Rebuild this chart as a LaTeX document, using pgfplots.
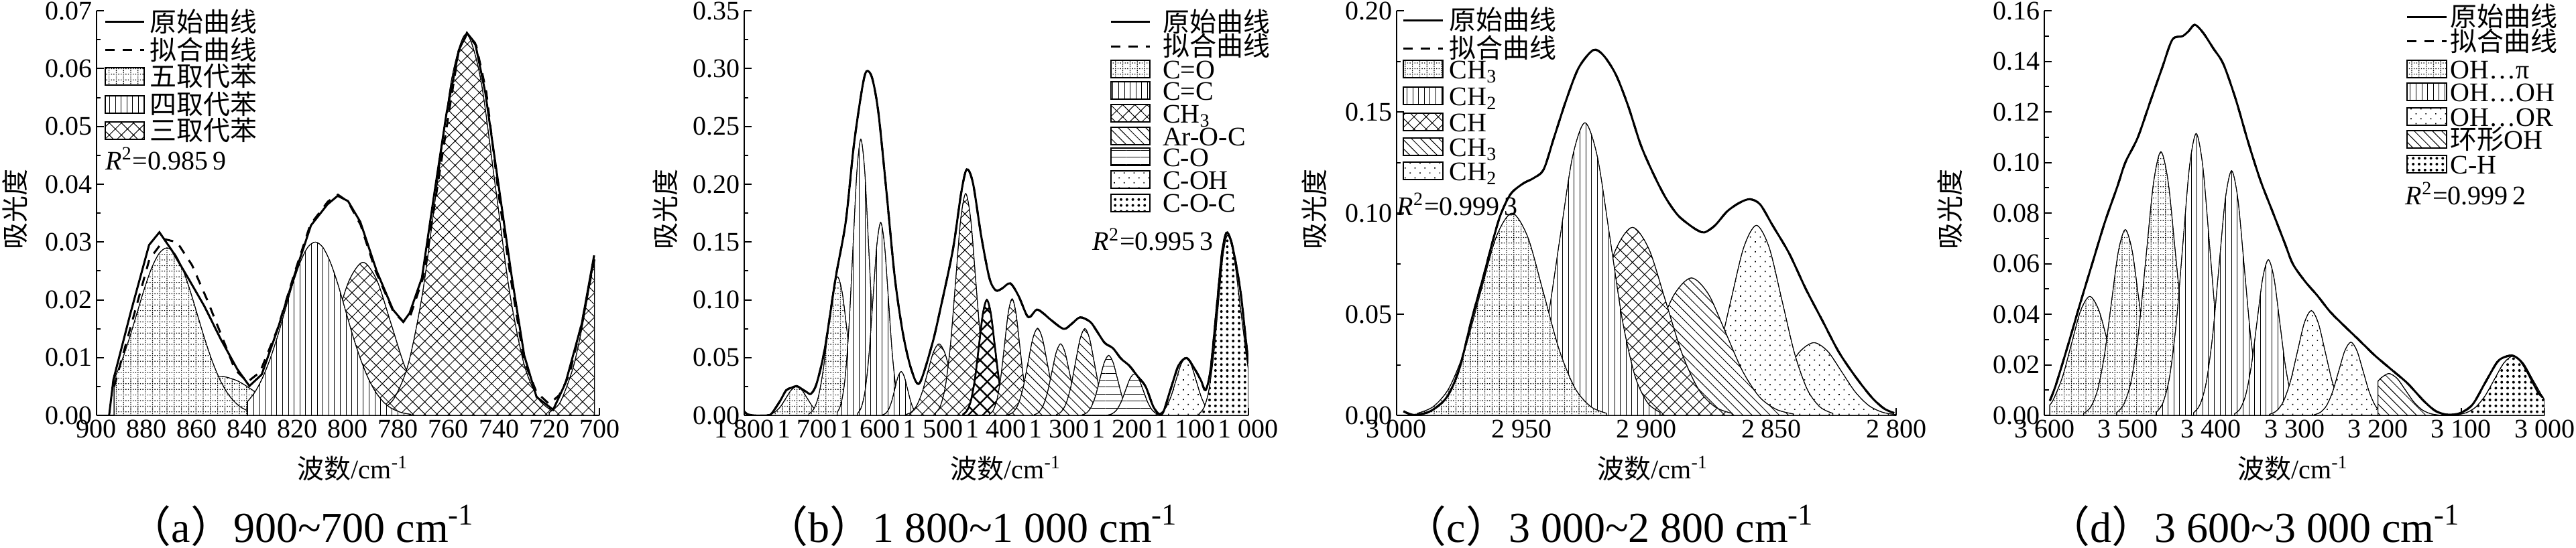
\documentclass[border=0pt]{standalone}
\usepackage{fontspec}
\setmainfont{Liberation Serif}
\newfontfamily\cjk{Noto Sans CJK SC}
\usepackage{pgfplots}
\pgfplotsset{compat=1.18}
\usetikzlibrary{patterns,patterns.meta}

\pgfdeclarepatternformonly{dotgrid}{\pgfpoint{-0.1pt}{-0.1pt}}{\pgfpoint{2.8pt}{2.2pt}}{\pgfpoint{2.7pt}{2.1pt}}{%
  \pgfpathrectangle{\pgfpoint{0pt}{0pt}}{\pgfpoint{0.35pt}{0.3pt}}%
  \pgfpathrectangle{\pgfpoint{0.9pt}{0pt}}{\pgfpoint{0.35pt}{0.3pt}}%
  \pgfpathrectangle{\pgfpoint{1.8pt}{0pt}}{\pgfpoint{0.35pt}{0.3pt}}%
  \pgfpathrectangle{\pgfpoint{0pt}{0.7pt}}{\pgfpoint{0.3pt}{0.35pt}}%
  \pgfpathrectangle{\pgfpoint{0pt}{1.4pt}}{\pgfpoint{0.3pt}{0.35pt}}%
  \pgfusepath{fill}}

\tikzset{
  comp/.style={draw=black, line width=0.25pt, fill=white},
  pgrid/.style={comp, postaction={pattern color=black, pattern=dotgrid}},
  pvert/.style={comp, postaction={pattern color=black, pattern={Lines[angle=90,distance=2.15pt,line width=0.25pt]}}},
  pcross/.style={comp, postaction={pattern color=black, pattern={Hatch[angle=45,distance=3.2pt,line width=0.25pt]}}},
  pcrossb/.style={draw=black, line width=0.6pt, fill=white, postaction={pattern color=black, pattern={Hatch[angle=45,distance=3.8pt,line width=0.6pt]}}},
  pnw/.style={comp, postaction={pattern color=black, pattern={Lines[angle=-45,distance=2.4pt,line width=0.25pt]}}},
  phor/.style={comp, postaction={pattern color=black, pattern={Lines[angle=0,distance=2.6pt,line width=0.25pt]}}},
  pdots/.style={comp, postaction={pattern color=black, pattern={Dots[distance=2.6pt,radius=0.3pt,angle=45]}}},
  pdia/.style={comp, postaction={pattern color=black, pattern={Dots[distance=2.2pt,radius=0.5pt]}}},
  solidc/.style={black, line width=0.75pt},
  dashc/.style={black, line width=0.75pt, dash pattern=on 3.5pt off 3pt},
  rsq/.style={anchor=west, inner sep=0pt, font=\fontsize{10}{12}\selectfont},
  capt/.style={anchor=base, inner sep=0pt, font=\fontsize{16}{18}\selectfont},
}

% legend helpers (key entries, drawn in axis description coordinates)
\newcommand{\legline}[3]{\draw[#1] (axis description cs:#2,#3) -- ++(14.6pt,0pt);}
\newcommand{\legbox}[3]{\draw[#1, line width=0.5pt] ([yshift=-3.25pt]axis description cs:#2,#3) rectangle ++(14.6pt,6.5pt);}
\newcommand{\legtext}[3]{\node[anchor=base west, inner sep=0pt, font=\fontsize{10}{12}\selectfont] at ([yshift=-3.6pt]axis description cs:#1,#2) {#3};}

\pgfplotsset{
  panel/.style={
    scale only axis, anchor=south west, x dir=reverse,
    axis x line*=bottom, axis y line*=left,
    axis line style={-, line width=0.5pt},
    tick style={black, line width=0.5pt},
    tick align=inside,
    major tick length=2.8pt, minor tick length=1.6pt,
    tick label style={font=\fontsize{10}{12}\selectfont},
    yticklabel style={inner xsep=1.5pt, inner ysep=0pt},
    xticklabel style={inner sep=1.5pt},
    label style={font=\fontsize{10}{12}\selectfont},
    xlabel={{\cjk 波数}/cm\textsuperscript{-1}},
    ylabel={\cjk 吸光度},
    ymin=0, enlargelimits=false, clip mode=individual,
    minor x tick num=1, minor y tick num=1,
  },
}

\begin{document}
\begin{tikzpicture}
\useasboundingbox (0,0) rectangle (960.5pt,204.25pt);

%================ (a) =================
\begin{axis}[panel, at={(36pt,49.2pt)}, width=187.5pt, height=151pt,
  xmin=700, xmax=900, ymax=0.07,
  xtick={700,720,740,760,780,800,820,840,860,880,900},
  xticklabels={700,720,740,760,780,800,820,840,860,880,900},
  ytick={0,0.01,0.02,0.03,0.04,0.05,0.06,0.07},
  yticklabels={0.00,0.01,0.02,0.03,0.04,0.05,0.06,0.07},
  xlabel style={at={(axis description cs:0.51,-0.131)}, anchor=center},
  ylabel style={at={(axis description cs:-0.163,0.51)}, anchor=center}]

\addplot[pcross, smooth] coordinates {(827,0.00029)(821.5,0.00116)(816,0.00359)(810.5,0.0086)(805,0.01607)(799.5,0.02339)(794,0.0265)(788.5,0.02339)(783,0.01607)(777.5,0.0086)(772,0.00359)(766.5,0.00116)(761,0.00029)} \closedcycle;
\addplot[pcross, smooth] coordinates {(787.5,0.00073)(781.75,0.0029)(776,0.00893)(770.25,0.02143)(764.5,0.04003)(758.75,0.05825)(753,0.066)(747.25,0.05825)(741.5,0.04003)(735.75,0.02143)(730,0.00893)(724.25,0.0029)(718.5,0.00073)} \closedcycle;
\addplot[pgrid, smooth] coordinates {(893,0.000075)(886,0.0003)(879,0.00092)(872,0.00221)(865,0.00412)(858,0.006)(851,0.0068)(844,0.006)(837,0.00412)(830,0.00221)(823,0.00092)(816,0.0003)(809,0.000075)} \closedcycle;
\addplot[pgrid, smooth] coordinates {(893,0.00627)(890,0.00942)(887,0.01328)(884,0.01759)(881,0.0219)(878,0.0256)(875,0.0281)(872,0.029)(869,0.0281)(866,0.0256)(863,0.0219)(860,0.01759)(857,0.01328)(854,0.00942)(851,0.00627)(848,0.00392)(845,0.00231)(842,0.00127)(838,0.00053)(834,0.00019)(828,0.00003)} \closedcycle;
\addplot[pvert, smooth] coordinates {(840,0.00239)(837,0.00406)(834,0.0065)(831,0.00975)(828,0.0137)(825,0.0182)(822,0.0227)(819,0.0265)(816,0.0291)(813,0.030)(810,0.0291)(807,0.0265)(804,0.0227)(801,0.0182)(798,0.0137)(795,0.00975)(792,0.0065)(789,0.00406)(786,0.00239)(783,0.00132)(779,0.00054)(775,0.0002)} \closedcycle;
\addplot[pcross, smooth] coordinates {(720,0.0005)(716,0.002)(713,0.005)(710,0.009)(707,0.015)(704.5,0.021)(702,0.027)} \closedcycle;

\addplot[solidc] coordinates {(895,0)(893.3,0.0062)(886.5,0.0177)(879.1,0.0295)(875.0,0.0317)(870.1,0.0286)(863.6,0.0238)(857.1,0.0189)(850.6,0.0132)(844.0,0.0080)(839.2,0.0051)(834.3,0.0071)(827.7,0.0153)(821.2,0.0244)(814.7,0.0329)(808.2,0.0365)(804.1,0.0380)(800.0,0.0371)(795.1,0.0335)(788.6,0.0250)(782.1,0.0183)(778.0,0.0162)(775.5,0.0177)(770.6,0.0238)(765.7,0.0383)(760.8,0.0523)(755.9,0.0632)(752.7,0.0662)(749.4,0.0644)(745.4,0.0559)(739.6,0.0383)(734.8,0.0238)(729.9,0.0104)(725.0,0.0032)(718.4,0.0010)(713.5,0.0056)(707.0,0.0159)(702.1,0.0277)};
\addplot[dashc] coordinates {(893,0.005)(886,0.016)(879,0.027)(873,0.0305)(868,0.030)(862,0.026)(856,0.020)(850,0.0135)(845,0.008)(840,0.0058)(835,0.0075)(828,0.015)(821,0.025)(815,0.033)(808,0.037)(804,0.0382)(800,0.037)(795,0.033)(789,0.025)(782,0.018)(778,0.0162)(775,0.0175)(770,0.024)(765,0.038)(760,0.052)(756,0.063)(752.7,0.066)(749,0.064)(745,0.056)(740,0.038)(735,0.023)(730,0.0095)(725,0.004)(720,0.002)(716,0.0035)(712,0.007)(707,0.016)(702,0.027)};

\legline{solidc}{0.0171}{0.9724} \legtext{0.1044}{0.9724}{\cjk 原始曲线}
\legline{dashc}{0.0171}{0.9031} \legtext{0.1044}{0.9031}{\cjk 拟合曲线}
\legbox{pgrid}{0.0171}{0.8381} \legtext{0.1044}{0.8381}{\cjk 五取代苯}
\legbox{pvert}{0.0171}{0.7687} \legtext{0.1044}{0.7687}{\cjk 四取代苯}
\legbox{pcross}{0.0171}{0.7038} \legtext{0.1044}{0.7038}{\cjk 三取代苯}
\node[rsq] at (axis description cs:0.017,0.634) {\textit{R}\textsuperscript{2}=0.985\,9};
\end{axis}

%================ (b) =================
\begin{axis}[panel, at={(277.5pt,49.2pt)}, width=188pt, height=151pt,
  xmin=1000, xmax=1800, ymax=0.35,
  xtick={1000,1100,1200,1300,1400,1500,1600,1700,1800},
  xticklabels={1 000,1 100,1 200,1 300,1 400,1 500,1 600,1 700,1 800},
  ytick={0,0.05,0.10,0.15,0.20,0.25,0.30,0.35},
  yticklabels={0.00,0.05,0.10,0.15,0.20,0.25,0.30,0.35},
  xlabel style={at={(axis description cs:0.519,-0.131)}, anchor=center},
  ylabel style={at={(axis description cs:-0.157,0.51)}, anchor=center}]

\addplot[pgrid, smooth] coordinates {(1767,0.0003)(1758.5,0.0011)(1750.2,0.0034)(1741.9,0.0081)(1733.6,0.0152)(1725.3,0.0221)(1717,0.025)(1708.7,0.0221)(1700.4,0.0152)(1692.1,0.0081)(1683.8,0.0034)(1675.5,0.0011)(1667.2,0.0003)} \closedcycle;
\addplot[pgrid, smooth] coordinates {(1697.6,0.00133)(1690,0.00527)(1682.4,0.0162)(1674.8,0.039)(1667.2,0.0728)(1659.6,0.1059)(1652,0.120)(1644.4,0.1059)(1636.8,0.0728)(1629.2,0.039)(1621.6,0.0162)(1614,0.00527)(1606.4,0.00133)} \closedcycle;
\addplot[pvert, smooth] coordinates {(1652.5,0.00265)(1646.25,0.0105)(1640,0.0323)(1633.75,0.0776)(1627.5,0.145)(1621.25,0.2109)(1615,0.239)(1608.75,0.2109)(1602.5,0.145)(1596.25,0.0776)(1590,0.0323)(1583.75,0.0105)(1577.5,0.00265)} \closedcycle;
\addplot[pvert, smooth] coordinates {(1620.1,0.00185)(1614,0.00733)(1607.9,0.0226)(1601.8,0.0542)(1595.7,0.1013)(1589.6,0.1474)(1583.5,0.167)(1577.4,0.1474)(1571.3,0.1013)(1565.2,0.0542)(1559.1,0.0226)(1553,0.00733)(1546.9,0.00185)} \closedcycle;
\addplot[pvert, smooth] coordinates {(1581,0.00042)(1576,0.00167)(1571,0.00514)(1566,0.01234)(1561,0.02305)(1556,0.03354)(1551,0.038)(1546,0.03354)(1541,0.02305)(1536,0.01234)(1531,0.00514)(1526,0.00167)(1521,0.00042)} \closedcycle;
\addplot[pcross, smooth] coordinates {(1544.4,0.00069)(1535.5,0.00272)(1526.6,0.00839)(1517.7,0.0201)(1508.8,0.0376)(1499.9,0.0547)(1491,0.062)(1482.1,0.0547)(1473.2,0.0376)(1464.3,0.0201)(1455.4,0.00839)(1446.5,0.00272)(1437.6,0.00069)} \closedcycle;
\addplot[pcross, smooth] coordinates {(1496.6,0.00213)(1488.6,0.00843)(1480.6,0.026)(1472.6,0.0623)(1464.6,0.1164)(1456.6,0.1694)(1448.6,0.192)(1440.6,0.1694)(1432.6,0.1164)(1424.6,0.0623)(1416.6,0.026)(1408.6,0.00843)(1400.6,0.00213)} \closedcycle;
\addplot[pcrossb, smooth] coordinates {(1452.5,0.00111)(1446.25,0.00439)(1440,0.01353)(1433.75,0.03247)(1427.5,0.06065)(1421.25,0.08825)(1415,0.100)(1408.75,0.08825)(1402.5,0.06065)(1396.25,0.03247)(1390,0.01353)(1383.75,0.00439)(1377.5,0.00111)} \closedcycle;
\addplot[pcross, smooth] coordinates {(1411,0.00112)(1405,0.00443)(1399,0.01367)(1393,0.0328)(1387,0.0613)(1381,0.0891)(1375,0.101)(1369,0.0891)(1363,0.0613)(1357,0.0328)(1351,0.01367)(1345,0.00443)(1339,0.00112)} \closedcycle;
\addplot[pnw, smooth] coordinates {(1380.1,0.00084)(1372.5,0.00331)(1364.9,0.01022)(1357.3,0.0245)(1349.7,0.0458)(1342.1,0.0666)(1334.5,0.0755)(1326.9,0.0666)(1319.3,0.0458)(1311.7,0.0245)(1304.1,0.01022)(1296.5,0.00331)(1288.9,0.00084)} \closedcycle;
\addplot[pnw, smooth] coordinates {(1339.7,0.00069)(1332.75,0.00272)(1325.8,0.00839)(1318.85,0.0201)(1311.9,0.0376)(1304.95,0.0547)(1298,0.062)(1291.05,0.0547)(1284.1,0.0376)(1277.15,0.0201)(1270.2,0.00839)(1263.25,0.00272)(1256.3,0.00069)} \closedcycle;
\addplot[pnw, smooth] coordinates {(1304.5,0.00083)(1297,0.0033)(1289.5,0.01017)(1282,0.0244)(1274.5,0.0456)(1267,0.0664)(1259.5,0.0752)(1252,0.0664)(1244.5,0.0456)(1237,0.0244)(1229.5,0.01017)(1222,0.0033)(1214.5,0.00083)} \closedcycle;
\addplot[phor, smooth] coordinates {(1263.7,0.00058)(1256.7,0.00228)(1249.7,0.00704)(1242.7,0.01688)(1235.7,0.03154)(1228.7,0.04589)(1221.7,0.052)(1214.7,0.04589)(1207.7,0.03154)(1200.7,0.01688)(1193.7,0.00704)(1186.7,0.00228)(1179.7,0.00058)} \closedcycle;
\addplot[phor, smooth] coordinates {(1223,0.0004)(1216,0.00158)(1209,0.00487)(1202,0.01169)(1195,0.02183)(1188,0.03177)(1181,0.036)(1174,0.03177)(1167,0.02183)(1160,0.01169)(1153,0.00487)(1146,0.00158)(1139,0.0004)} \closedcycle;
\addplot[pdots, smooth] coordinates {(1147,0.00056)(1139,0.0022)(1131,0.00677)(1123,0.01624)(1115,0.03033)(1107,0.04413)(1099,0.050)(1091,0.04413)(1083,0.03033)(1075,0.01624)(1067,0.00677)(1059,0.0022)(1051,0.00056)} \closedcycle;
\addplot[pdia, smooth] coordinates {(1078,0.0017)(1070.5,0.0068)(1063,0.0211)(1055.5,0.0507)(1048,0.0946)(1040.5,0.1377)(1033,0.156)(1023,0.1377)(1013,0.0946)(1003,0.0507)(1000,0.040)} \closedcycle;

\addplot[solidc, smooth] coordinates {(1800,0.0036)(1795,0.001)(1782,0)(1763,0)(1756,0.0021)(1743,0.0127)(1733.5,0.0218)(1725,0.024)(1717,0.0255)(1709,0.023)(1701,0.0203)(1694,0.0188)(1685,0.0279)(1672,0.0582)(1655,0.1189)(1639,0.1674)(1626,0.2341)(1613,0.2827)(1606,0.2978)(1597,0.2918)(1587,0.2614)(1574,0.1917)(1561,0.1189)(1548,0.0704)(1535,0.0400)(1522,0.0279)(1502,0.0613)(1489,0.0916)(1469,0.1432)(1456,0.1917)(1447,0.2129)(1437,0.2008)(1424,0.1553)(1411,0.1189)(1401,0.1083)(1391,0.1098)(1378,0.1143)(1365,0.1037)(1352,0.0870)(1346,0.0855)(1336,0.0916)(1326,0.0886)(1313,0.0825)(1293,0.0749)(1280,0.0795)(1267,0.0849)(1251,0.0810)(1241,0.0734)(1228,0.0628)(1215,0.0582)(1202,0.0491)(1189,0.0431)(1176,0.0340)(1163,0.0249)(1150,0.0067)(1137,0.0012)(1124,0.0218)(1111,0.0431)(1098,0.0497)(1085,0.0400)(1075,0.030)(1068,0.022)(1060,0.040)(1050,0.095)(1042,0.140)(1035,0.158)(1028,0.152)(1020,0.132)(1012,0.105)(1005,0.070)(1000,0.045)};
\addplot[dashc, smooth] coordinates {(1800,0.0036)(1795,0.001)(1782,0)(1763,0)(1756,0.0021)(1743,0.0127)(1733.5,0.0218)(1725,0.024)(1717,0.0255)(1709,0.023)(1701,0.0203)(1694,0.0188)(1685,0.0279)(1672,0.0582)(1655,0.1189)(1639,0.1674)(1626,0.2341)(1613,0.2827)(1606,0.2978)(1597,0.2918)(1587,0.2614)(1574,0.1917)(1561,0.1189)(1548,0.0704)(1535,0.0400)(1522,0.0279)(1502,0.0613)(1489,0.0916)(1469,0.1432)(1456,0.1917)(1447,0.2129)(1437,0.2008)(1424,0.1553)(1411,0.1189)(1401,0.1083)(1391,0.1098)(1378,0.1143)(1365,0.1037)(1352,0.0870)(1346,0.0855)(1336,0.0916)(1326,0.0886)(1313,0.0825)(1293,0.0749)(1280,0.0795)(1267,0.0849)(1251,0.0810)(1241,0.0734)(1228,0.0628)(1215,0.0582)(1202,0.0491)(1189,0.0431)(1176,0.0340)(1163,0.0249)(1150,0.0067)(1137,0.0012)(1124,0.0218)(1111,0.0431)(1098,0.0497)(1085,0.0400)(1075,0.030)(1068,0.022)(1060,0.040)(1050,0.095)(1042,0.140)(1035,0.158)(1028,0.152)(1020,0.132)(1012,0.105)(1005,0.070)(1000,0.045)};

\legline{solidc}{0.727}{0.9724} \legtext{0.8289}{0.9724}{\cjk 原始曲线}
\legline{dashc}{0.727}{0.9121} \legtext{0.8289}{0.9121}{\cjk 拟合曲线}
\legbox{pgrid}{0.727}{0.8558} \legtext{0.8289}{0.8558}{C=O}
\legbox{pvert}{0.727}{0.8035} \legtext{0.8289}{0.8035}{C=C}
\legbox{pcross}{0.727}{0.7470} \legtext{0.8289}{0.7470}{CH\textsubscript{3}}
\legbox{pnw}{0.727}{0.6907} \legtext{0.8289}{0.6907}{Ar-O-C}
\legbox{phor}{0.727}{0.6387} \legtext{0.8289}{0.6387}{C-O}
\legbox{pdots}{0.727}{0.5825} \legtext{0.8289}{0.5825}{C-OH}
\legbox{pdia}{0.727}{0.5260} \legtext{0.8289}{0.5260}{C-O-C}
\node[rsq] at (axis description cs:0.69,0.435) {\textit{R}\textsuperscript{2}=0.995\,3};
\end{axis}

%================ (c) =================
\begin{axis}[panel, at={(520.7pt,49.2pt)}, width=186.4pt, height=151pt,
  xmin=2800, xmax=3000, ymax=0.20,
  xtick={2800,2850,2900,2950,3000},
  xticklabels={2 800,2 850,2 900,2 950,3 000},
  ytick={0,0.05,0.10,0.15,0.20},
  yticklabels={0.00,0.05,0.10,0.15,0.20},
  xlabel style={at={(axis description cs:0.513,-0.131)}, anchor=center},
  ylabel style={at={(axis description cs:-0.164,0.51)}, anchor=center}]

\addplot[pdots, smooth] coordinates {(2866,0.0004)(2860.5,0.00158)(2855,0.00487)(2849.5,0.01169)(2844,0.02183)(2838.5,0.03177)(2833,0.036)(2827.5,0.03177)(2822,0.02183)(2816.5,0.01169)(2811,0.00487)(2805.5,0.00158)(2800,0.0004)} \closedcycle;
\addplot[pdots, smooth] coordinates {(2886.6,0.00104)(2881.5,0.00413)(2876.4,0.01272)(2871.3,0.0305)(2866.2,0.057)(2861.1,0.083)(2856,0.094)(2850.9,0.083)(2845.8,0.057)(2840.7,0.0305)(2835.6,0.01272)(2830.5,0.00413)(2825.4,0.00104)} \closedcycle;
\addplot[pnw, smooth] coordinates {(2922.8,0.00075)(2916,0.00299)(2909.2,0.0092)(2902.4,0.0221)(2895.6,0.0412)(2888.8,0.060)(2882,0.068)(2875.2,0.060)(2868.4,0.0412)(2861.6,0.0221)(2854.8,0.0092)(2848,0.00299)(2841.2,0.00075)} \closedcycle;
\addplot[pcross, smooth] coordinates {(2945.5,0.00103)(2938.85,0.00408)(2932.2,0.01258)(2925.55,0.0302)(2918.9,0.0564)(2912.25,0.0821)(2905.6,0.093)(2898.95,0.0821)(2892.3,0.0564)(2885.65,0.0302)(2879,0.01258)(2872.35,0.00408)(2865.7,0.00103)} \closedcycle;
\addplot[pvert, smooth] coordinates {(2954.6,0.0016)(2949.6,0.00635)(2944.6,0.01958)(2939.6,0.04698)(2934.6,0.08776)(2929.6,0.1277)(2924.6,0.1447)(2919.6,0.1277)(2914.6,0.08776)(2909.6,0.04698)(2904.6,0.01958)(2899.6,0.00635)(2894.6,0.0016)} \closedcycle;
\addplot[pgrid, smooth] coordinates {(2991.6,0.00111)(2985.3,0.00439)(2979,0.01353)(2972.7,0.03247)(2966.4,0.06065)(2960.1,0.08825)(2953.8,0.100)(2947.5,0.08825)(2941.2,0.06065)(2934.9,0.03247)(2928.6,0.01353)(2922.3,0.00439)(2916,0.00111)} \closedcycle;

\addplot[solidc, smooth] coordinates {(2997.2,0.0021)(2993.1,0.0003)(2986.5,0.0021)(2979.9,0.009)(2974.9,0.0229)(2970,0.0471)(2965,0.0697)(2961.7,0.0853)(2958.4,0.0991)(2954.3,0.1095)(2949.3,0.1147)(2945.2,0.1173)(2941.1,0.1217)(2937,0.1373)(2932,0.1563)(2927.1,0.1719)(2921.3,0.1806)(2917.2,0.178)(2912.2,0.1684)(2907.3,0.1529)(2902.3,0.1338)(2897.4,0.1199)(2892.4,0.1078)(2887.5,0.0991)(2882.5,0.0939)(2879.2,0.0913)(2876.7,0.0905)(2872.6,0.0939)(2867.7,0.1009)(2862.7,0.1052)(2858.6,0.1069)(2854.5,0.1043)(2849.5,0.0939)(2842.9,0.0801)(2836.3,0.0627)(2829.7,0.0471)(2823.1,0.0315)(2816.5,0.0194)(2809.9,0.009)(2805,0.0035)(2800.9,0.0012)};
\addplot[dashc, smooth] coordinates {(2997.2,0.0021)(2993.1,0.0003)(2986.5,0.0021)(2979.9,0.009)(2974.9,0.0229)(2970,0.0471)(2965,0.0697)(2961.7,0.0853)(2958.4,0.0991)(2954.3,0.1095)(2949.3,0.1147)(2945.2,0.1173)(2941.1,0.1217)(2937,0.1373)(2932,0.1563)(2927.1,0.1719)(2921.3,0.1806)(2917.2,0.178)(2912.2,0.1684)(2907.3,0.1529)(2902.3,0.1338)(2897.4,0.1199)(2892.4,0.1078)(2887.5,0.0991)(2882.5,0.0939)(2879.2,0.0913)(2876.7,0.0905)(2872.6,0.0939)(2867.7,0.1009)(2862.7,0.1052)(2858.6,0.1069)(2854.5,0.1043)(2849.5,0.0939)(2842.9,0.0801)(2836.3,0.0627)(2829.7,0.0471)(2823.1,0.0315)(2816.5,0.0194)(2809.9,0.009)(2805,0.0035)(2800.9,0.0012)};

\legline{solidc}{0.0138}{0.9768} \legtext{0.1047}{0.9768}{\cjk 原始曲线}
\legline{dashc}{0.0138}{0.9075} \legtext{0.1047}{0.9075}{\cjk 拟合曲线}
\legbox{pgrid}{0.0138}{0.8555} \legtext{0.1047}{0.8555}{CH\textsubscript{3}}
\legbox{pvert}{0.0138}{0.7904} \legtext{0.1047}{0.7904}{CH\textsubscript{2}}
\legbox{pcross}{0.0138}{0.7255} \legtext{0.1047}{0.7255}{CH}
\legbox{pnw}{0.0138}{0.6647} \legtext{0.1047}{0.6647}{CH\textsubscript{3}}
\legbox{pdots}{0.0138}{0.6041} \legtext{0.1047}{0.6041}{CH\textsubscript{2}}
\node[rsq] at (axis description cs:0.0,0.522) {\textit{R}\textsuperscript{2}=0.999\,3};
\end{axis}

%================ (d) =================
\begin{axis}[panel, at={(762.3pt,49.2pt)}, width=186.5pt, height=151pt,
  xmin=3000, xmax=3600, ymax=0.16,
  xtick={3000,3100,3200,3300,3400,3500,3600},
  xticklabels={3 000,3 100,3 200,3 300,3 400,3 500,3 600},
  ytick={0,0.02,0.04,0.06,0.08,0.10,0.12,0.14,0.16},
  yticklabels={0.00,0.02,0.04,0.06,0.08,0.10,0.12,0.14,0.16},
  xlabel style={at={(axis description cs:0.497,-0.131)}, anchor=center},
  ylabel style={at={(axis description cs:-0.189,0.51)}, anchor=center}]

\addplot[pgrid, smooth] coordinates {(3593.6,0.0042)(3589.2,0.00637)(3578.3,0.0153)(3567.4,0.02857)(3556.5,0.04157)(3545.6,0.0471)(3534.7,0.04157)(3523.8,0.02857)(3513,0.0153)(3502,0.00637)(3491.1,0.00207)(3480.2,0.00052)} \closedcycle;
\addplot[pgrid, smooth] coordinates {(3553.1,0.00082)(3544.75,0.00323)(3536.4,0.00994)(3528.05,0.02387)(3519.7,0.04458)(3511.35,0.06486)(3503,0.0735)(3494.65,0.06486)(3486.3,0.04458)(3477.95,0.02387)(3469.6,0.00994)(3461.25,0.00323)(3452.9,0.00082)} \closedcycle;
\addplot[pgrid, smooth] coordinates {(3513.4,0.00116)(3504.55,0.00458)(3495.7,0.01411)(3486.85,0.03387)(3478,0.06326)(3469.15,0.09205)(3460.3,0.1043)(3451.45,0.09205)(3442.6,0.06326)(3433.75,0.03387)(3424.9,0.01411)(3416.05,0.00458)(3407.2,0.00116)} \closedcycle;
\addplot[pvert, smooth] coordinates {(3466,0.00124)(3458,0.00489)(3450,0.01509)(3442,0.0362)(3434,0.06762)(3426,0.0984)(3418,0.1115)(3410,0.0984)(3402,0.06762)(3394,0.0362)(3386,0.01509)(3378,0.00489)(3370,0.00124)} \closedcycle;
\addplot[pvert, smooth] coordinates {(3421.1,0.00107)(3413.5,0.00425)(3405.9,0.0131)(3398.3,0.03143)(3390.7,0.05871)(3383.1,0.08543)(3375.5,0.0968)(3367.9,0.08543)(3360.3,0.05871)(3352.7,0.03143)(3345.1,0.0131)(3337.5,0.00425)(3329.9,0.00107)} \closedcycle;
\addplot[pvert, smooth] coordinates {(3371.9,0.00068)(3365.15,0.0027)(3358.4,0.00833)(3351.65,0.02)(3344.9,0.03736)(3338.15,0.05436)(3331.4,0.0616)(3324.65,0.05436)(3317.9,0.03736)(3311.15,0.02)(3304.4,0.00833)(3297.65,0.0027)(3290.9,0.00068)} \closedcycle;
\addplot[pdots, smooth] coordinates {(3330,0.00046)(3321.65,0.00182)(3313.3,0.00561)(3304.95,0.01348)(3296.6,0.02517)(3288.25,0.03662)(3279.9,0.0415)(3271.55,0.03662)(3263.2,0.02517)(3254.85,0.01348)(3246.5,0.00561)(3238.15,0.00182)(3229.8,0.00046)} \closedcycle;
\addplot[pdots, smooth] coordinates {(3276.2,0.00032)(3268.9,0.00127)(3261.6,0.00392)(3254.3,0.00942)(3247,0.01759)(3239.7,0.02559)(3232.4,0.029)(3225.1,0.02559)(3217.8,0.01759)(3210.5,0.00942)(3203.2,0.00392)(3195.9,0.00127)(3188.6,0.00032)} \closedcycle;
\addplot[pnw, smooth] coordinates {(3200,0.01345)(3197,0.01465)(3187,0.0166)(3177,0.01465)(3167,0.01007)(3157,0.00539)(3147,0.00225)(3137,0.00073)(3127,0.00018)} \closedcycle;
\addplot[pdia, smooth] coordinates {(3106,0.00026)(3094.55,0.00104)(3083.1,0.00319)(3071.65,0.00766)(3060.2,0.01431)(3048.75,0.02083)(3037.3,0.0236)(3025.85,0.02083)(3014.4,0.01431)(3002.95,0.00766)(3000,0.00626)} \closedcycle;

\addplot[solidc, smooth] coordinates {(3593.6,0.0058)(3586.3,0.0121)(3571.6,0.028)(3556.9,0.0446)(3542.2,0.0606)(3527.5,0.0765)(3512.7,0.0904)(3502.9,0.1001)(3488.2,0.1098)(3473.5,0.1237)(3458.8,0.1375)(3446.6,0.1486)(3434.3,0.150)(3427,0.152)(3419.6,0.1545)(3409.8,0.1514)(3397.5,0.1452)(3385.3,0.1389)(3370.6,0.1251)(3355.9,0.1084)(3341.2,0.0932)(3326.5,0.0807)(3311.8,0.0682)(3302,0.0599)(3287.3,0.053)(3272.6,0.0474)(3257.8,0.0412)(3243.1,0.0363)(3223.5,0.0301)(3203.9,0.0238)(3184.3,0.0183)(3164.7,0.0128)(3145.1,0.0058)(3130.4,0.0017)(3115.7,0.0003)(3101,0.001)(3086.3,0.0044)(3071.6,0.0128)(3056.9,0.0211)(3047.3,0.0232)(3037.5,0.0236)(3027.7,0.0211)(3017.9,0.0155)(3008.1,0.0093)(3002.2,0.0072)};
\addplot[dashc, smooth] coordinates {(3593.6,0.0058)(3586.3,0.0121)(3571.6,0.028)(3556.9,0.0446)(3542.2,0.0606)(3527.5,0.0765)(3512.7,0.0904)(3502.9,0.1001)(3488.2,0.1098)(3473.5,0.1237)(3458.8,0.1375)(3446.6,0.1486)(3434.3,0.150)(3427,0.152)(3419.6,0.1545)(3409.8,0.1514)(3397.5,0.1452)(3385.3,0.1389)(3370.6,0.1251)(3355.9,0.1084)(3341.2,0.0932)(3326.5,0.0807)(3311.8,0.0682)(3302,0.0599)(3287.3,0.053)(3272.6,0.0474)(3257.8,0.0412)(3243.1,0.0363)(3223.5,0.0301)(3203.9,0.0238)(3184.3,0.0183)(3164.7,0.0128)(3145.1,0.0058)(3130.4,0.0017)(3115.7,0.0003)(3101,0.001)(3086.3,0.0044)(3071.6,0.0128)(3056.9,0.0211)(3047.3,0.0232)(3037.5,0.0236)(3027.7,0.0211)(3017.9,0.0155)(3008.1,0.0093)(3002.2,0.0072)};

\legline{solidc}{0.7252}{0.9854} \legtext{0.8109}{0.9854}{\cjk 原始曲线}
\legline{dashc}{0.7252}{0.9248} \legtext{0.8109}{0.9248}{\cjk 拟合曲线}
\legbox{pgrid}{0.7252}{0.8555} \legtext{0.8109}{0.8555}{OH…π}
\legbox{pvert}{0.7252}{0.7992} \legtext{0.8109}{0.7992}{OH…OH}
\legbox{pdots}{0.7252}{0.7384} \legtext{0.8109}{0.7384}{OH…OR}
\legbox{pnw}{0.7252}{0.6821} \legtext{0.8109}{0.6821}{{\cjk 环形}OH}
\legbox{pdia}{0.7252}{0.6214} \legtext{0.8109}{0.6214}{C-H}
\node[rsq] at (axis description cs:0.721,0.548) {\textit{R}\textsuperscript{2}=0.999\,2};
\end{axis}

%================ captions =================
\node[capt] at (112.5pt,2pt) {{\cjk （}a{\cjk ）}900\textasciitilde700 cm\textsuperscript{-1}};
\node[capt] at (362.3pt,2pt) {{\cjk （}b{\cjk ）}1 800\textasciitilde1 000 cm\textsuperscript{-1}};
\node[capt] at (600pt,2pt) {{\cjk （}c{\cjk ）}3 000\textasciitilde2 800 cm\textsuperscript{-1}};
\node[capt] at (840.5pt,2pt) {{\cjk （}d{\cjk ）}3 600\textasciitilde3 000 cm\textsuperscript{-1}};
\end{tikzpicture}
\end{document}
